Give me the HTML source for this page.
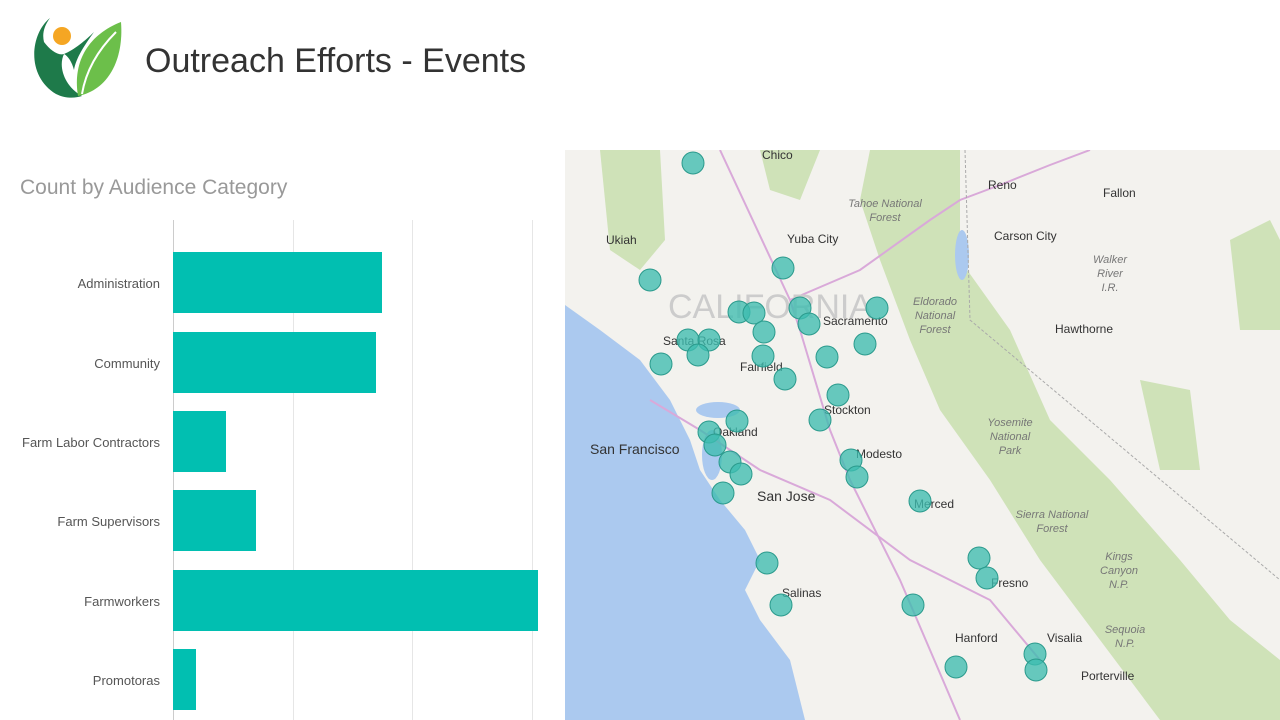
<!DOCTYPE html>
<html><head><style>
body{margin:0;width:1280px;height:720px;overflow:hidden;background:#fff;font-family:"Liberation Sans",sans-serif;position:relative}
.t{position:absolute}
.lab{position:absolute;right:1120px;font-size:13px;color:#555;text-align:right;white-space:nowrap}
.bar{position:absolute;left:173px;background:#01bfb1;height:61px}
.g{position:absolute;top:220px;width:1px;height:500px;background:#e6e6e6}
</style></head><body>
<svg class="t" style="left:28px;top:10px" width="96" height="90" viewBox="0 0 96 90">
<path d="M22 8 C2 24 -2 66 28 84 C38 89 48 88 54 86 C36 76 30 56 36 44 C30 46 22 40 16 32 C14 24 16 16 22 8Z" fill="#1e7a4a"/>
<path d="M36 44 C46 40 58 30 66 22 C56 36 48 48 46 60 C44 52 40 46 36 44Z" fill="#1e7a4a"/>
<path d="M93 12 C62 24 44 50 50 86 C80 80 96 50 93 12Z" fill="#6cbf4a"/>
<path d="M88 22 C70 40 58 60 54 84" stroke="#fff" stroke-width="2" fill="none"/>
<circle cx="34" cy="26" r="9" fill="#f5a623"/>
</svg>
<div class="t" style="left:145px;top:42px;font-size:34px;color:#333">Outreach Efforts - Events</div>
<div class="t" style="left:20px;top:176px;font-size:21px;color:#999">Count by Audience Category</div>
<div class="g" style="left:173px;background:#ccc"></div>
<div class="g" style="left:293px"></div>
<div class="g" style="left:412px"></div>
<div class="g" style="left:532px"></div>
<div class="bar" style="top:252px;width:209px"></div>
<div class="bar" style="top:332px;width:203px"></div>
<div class="bar" style="top:411px;width:53px"></div>
<div class="bar" style="top:490px;width:83px"></div>
<div class="bar" style="top:570px;width:365px"></div>
<div class="bar" style="top:649px;width:23px"></div>
<div class="lab" style="top:276px">Administration</div>
<div class="lab" style="top:356px">Community</div>
<div class="lab" style="top:435px">Farm Labor Contractors</div>
<div class="lab" style="top:514px">Farm Supervisors</div>
<div class="lab" style="top:594px">Farmworkers</div>
<div class="lab" style="top:673px">Promotoras</div>
<svg class="t" style="left:565px;top:150px" width="715" height="570" viewBox="565 150 715 570" font-family="Liberation Sans, sans-serif">
<rect x="565" y="150" width="715" height="570" fill="#f3f2ee"/>
<g fill="#cfe2b8">
<path d="M870 150 L960 150 L960 260 L1010 330 L1050 420 L1110 480 L1180 560 L1230 620 L1280 660 L1280 720 L1160 720 L1100 640 L1040 560 L990 480 L940 410 L910 340 L880 260 L860 200Z"/>
<path d="M600 150 L660 150 L665 240 L640 270 L610 250 Z"/>
<path d="M1230 240 L1270 220 L1280 240 L1280 330 L1240 330Z"/>
<path d="M1140 380 L1190 390 L1200 470 L1160 470Z"/>
<path d="M760 150 L820 150 L800 200 L770 190Z"/>
</g>
<path d="M565 305 L600 330 L640 360 L670 400 L690 440 L700 470 L720 500 L745 530 L760 560 L745 590 L760 620 L790 660 L805 720 L565 720Z" fill="#abc9ef"/>
<ellipse cx="712" cy="455" rx="10" ry="25" fill="#abc9ef"/>
<ellipse cx="718" cy="410" rx="22" ry="8" fill="#abc9ef"/>
<ellipse cx="962" cy="255" rx="7" ry="25" fill="#abc9ef"/>
<g stroke="#d9a9d9" stroke-width="2" fill="none">
<path d="M720 150 L790 300 L800 330 L830 430 L850 480 L900 580 L930 650 L960 720"/>
<path d="M790 300 L860 270 L930 220 L960 200 L1000 185 L1050 165 L1090 150"/>
<path d="M650 400 L700 430 L760 470 L830 500 L910 560 L990 600 L1040 660"/>
</g>
<path d="M965 150 L970 320 L1280 580" stroke="#aaa" stroke-width="1" stroke-dasharray="3,2" fill="none"/>
<g font-size="12" fill="#333">
<text x="762" y="159">Chico</text><text x="988" y="189">Reno</text><text x="1103" y="197">Fallon</text>
<text x="606" y="244">Ukiah</text><text x="787" y="243">Yuba City</text><text x="994" y="240">Carson City</text>
<text x="823" y="325">Sacramento</text><text x="663" y="345">Santa Rosa</text><text x="740" y="371">Fairfield</text>
<text x="1055" y="333">Hawthorne</text><text x="824" y="414">Stockton</text><text x="713" y="436">Oakland</text>
<text x="856" y="458">Modesto</text><text x="914" y="508">Merced</text><text x="991" y="587">Fresno</text>
<text x="782" y="597">Salinas</text><text x="955" y="642">Hanford</text><text x="1047" y="642">Visalia</text><text x="1081" y="680">Porterville</text>
<text x="590" y="454" font-size="14">San Francisco</text><text x="757" y="501" font-size="14">San Jose</text>
</g>
<g font-size="11" fill="#777" font-style="italic" text-anchor="middle">
<text x="885" y="207">Tahoe National</text><text x="885" y="221">Forest</text>
<text x="935" y="305">Eldorado</text><text x="935" y="319">National</text><text x="935" y="333">Forest</text>
<text x="1110" y="263">Walker</text><text x="1110" y="277">River</text><text x="1110" y="291">I.R.</text>
<text x="1010" y="426">Yosemite</text><text x="1010" y="440">National</text><text x="1010" y="454">Park</text>
<text x="1052" y="518">Sierra National</text><text x="1052" y="532">Forest</text>
<text x="1119" y="560">Kings</text><text x="1119" y="574">Canyon</text><text x="1119" y="588">N.P.</text>
<text x="1125" y="633">Sequoia</text><text x="1125" y="647">N.P.</text>
</g>
<text x="668" y="318" font-size="34" fill="#ccc">CALIFORNIA</text>
<g fill="#3dbdb0" fill-opacity="0.78" stroke="#2a9a8c" stroke-width="1">
<circle cx="693" cy="163" r="11"/><circle cx="783" cy="268" r="11"/><circle cx="650" cy="280" r="11"/>
<circle cx="739" cy="312" r="11"/><circle cx="754" cy="313" r="11"/><circle cx="800" cy="308" r="11"/><circle cx="877" cy="308" r="11"/>
<circle cx="809" cy="324" r="11"/><circle cx="764" cy="332" r="11"/><circle cx="688" cy="340" r="11"/><circle cx="709" cy="340" r="11"/>
<circle cx="865" cy="344" r="11"/><circle cx="698" cy="355" r="11"/><circle cx="763" cy="356" r="11"/><circle cx="827" cy="357" r="11"/>
<circle cx="661" cy="364" r="11"/><circle cx="785" cy="379" r="11"/><circle cx="838" cy="395" r="11"/><circle cx="820" cy="420" r="11"/>
<circle cx="737" cy="421" r="11"/><circle cx="709" cy="432" r="11"/><circle cx="715" cy="445" r="11"/><circle cx="730" cy="462" r="11"/>
<circle cx="741" cy="474" r="11"/><circle cx="851" cy="460" r="11"/><circle cx="857" cy="477" r="11"/><circle cx="723" cy="493" r="11"/>
<circle cx="920" cy="501" r="11"/><circle cx="767" cy="563" r="11"/><circle cx="979" cy="558" r="11"/><circle cx="987" cy="578" r="11"/>
<circle cx="781" cy="605" r="11"/><circle cx="913" cy="605" r="11"/><circle cx="956" cy="667" r="11"/><circle cx="1035" cy="654" r="11"/><circle cx="1036" cy="670" r="11"/>
</g>
</svg>
</body></html>
